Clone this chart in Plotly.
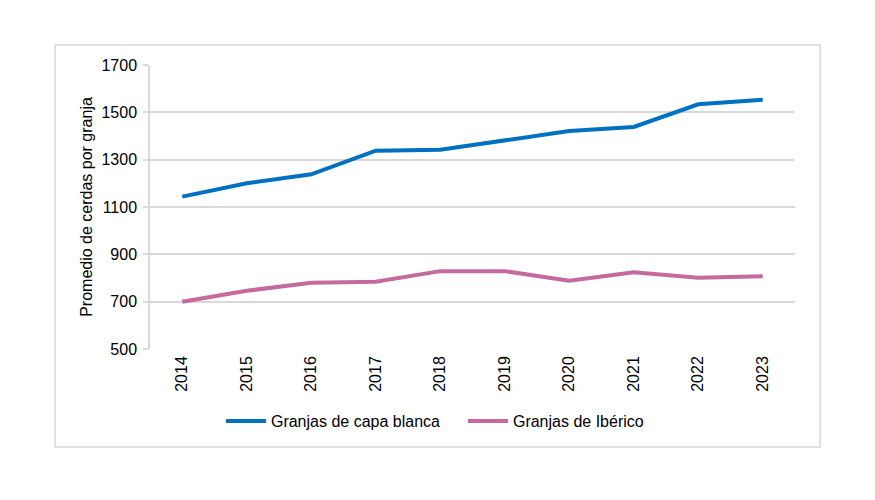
import plotly.graph_objects as go

years = ["2014", "2015", "2016", "2017", "2018", "2019", "2020", "2021", "2022", "2023"]
capa_blanca = [1144, 1200, 1238, 1338, 1342, 1381, 1421, 1438, 1534, 1553]
iberico = [700, 746, 780, 784, 829, 829, 788, 824, 801, 807]
y_ticks = [500, 700, 900, 1100, 1300, 1500, 1700]

fig = go.Figure()
fig.add_trace(go.Scatter(x=years, y=capa_blanca, mode="lines", name="Granjas de capa blanca",
                         line=dict(color="#0070c0", width=4)))
fig.add_trace(go.Scatter(x=years, y=iberico, mode="lines", name="Granjas de Ibérico",
                         line=dict(color="#c46a9f", width=4)))

fig.update_layout(
    width=875, height=500,
    margin=dict(l=142, r=88, t=57, b=159),
    paper_bgcolor="white", plot_bgcolor="white",
    font=dict(family="Liberation Sans, Arial, sans-serif", size=16, color="#000000"),
    showlegend=True,
    legend=dict(orientation="h", x=0.110, xanchor="left", y=-0.254, yanchor="middle",
                font=dict(size=16), itemwidth=40, tracegroupgap=0,
                entrywidth=187, entrywidthmode="pixels"),
    xaxis=dict(type="category", range=[-0.5, 9.5], tickangle=-90, showgrid=False,
               showline=False, zeroline=False, ticks="", ticklabelstandoff=3,
               tickfont=dict(size=16)),
    yaxis=dict(range=[500, 1700], tickvals=y_ticks, showgrid=True, gridcolor="#d9d9d9",
               gridwidth=1.5, showline=True, linecolor="#d9d9d9", linewidth=1.5, zeroline=False,
               ticks="outside", ticklen=5, tickcolor="#d9d9d9", tickwidth=1.5,
               ticklabelstandoff=3, tickfont=dict(size=16),
               title=dict(text="Promedio de cerdas por granja", font=dict(size=16), standoff=5)),
    shapes=[dict(type="rect", xref="paper", yref="paper", x0=-0.147, x1=1.039, y0=-0.345, y1=1.070,
                 line=dict(color="#d9d9d9", width=1.5), fillcolor="rgba(0,0,0,0)", layer="below")],
)

fig.write_html("out.html")
